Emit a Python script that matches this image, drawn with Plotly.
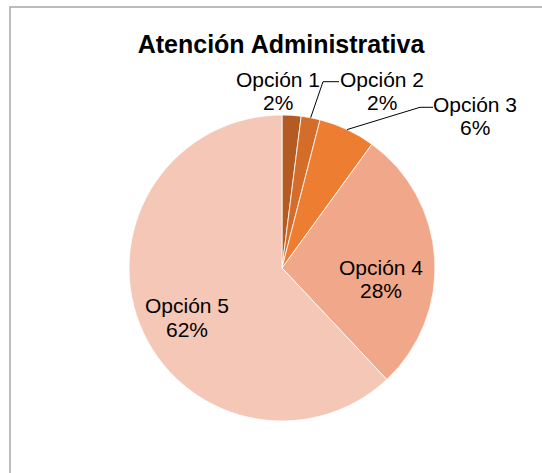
import math
import plotly.graph_objects as go

# Survey result for "Atención Administrativa"
labels = ["Opción 1", "Opción 2", "Opción 3", "Opción 4", "Opción 5"]
values = [2, 2, 6, 28, 62]
colors = ["#B35B22", "#D46D2A", "#ED7D31", "#F1A88A", "#F5C7B7"]
title_text = "Atención Administrativa"

W, H = 542, 473
CX, CY, R = 282, 268, 153          # pie centre and radius in pixels
FONT = "Liberation Sans, Arial, sans-serif"
LINE_GAP = 23.5                    # distance between the two lines of a data label


def px(x):
    return x / W


def py(y):
    return 1 - y / H


def edge_point(index):
    """Pixel point on the rim at the middle of slice `index` (clockwise from 12 o'clock)."""
    total = sum(values)
    start = sum(values[:index]) / total
    mid = start + values[index] / total / 2
    ang = mid * 2 * math.pi
    return CX + R * math.sin(ang), CY - R * math.cos(ang)


total = sum(values)
percents = [f"{round(v / total * 100)}%" for v in values]

fig = go.Figure(
    go.Pie(
        labels=labels,
        values=values,
        textinfo="none",
        marker=dict(colors=colors, line=dict(color="#FFFFFF", width=0.8)),
        sort=False,
        direction="clockwise",
        rotation=0,
        showlegend=False,
        hoverinfo="label+percent",
        domain=dict(x=[px(CX - R), px(CX + R)], y=[py(CY + R), py(CY - R)]),
    )
)

# Data label placement: (text centre x, first-line centre y) in pixels
label_pos = [(278, 79), (382, 79), (475, 104), (381, 267), (187, 305.5)]
annotations = []
for i, (tx, ty) in enumerate(label_pos):
    for k, line in enumerate((labels[i], percents[i])):
        annotations.append(dict(
            x=px(tx), y=py(ty + k * LINE_GAP), xref="paper", yref="paper",
            text=line, showarrow=False, xanchor="center", yanchor="middle",
            font=dict(family=FONT, size=21, color="#000000"),
        ))

# Leader lines: rim point -> elbow -> label edge
leaders = {1: [(323, 81.7), (339, 81.7)], 2: [(420, 107.3), (433, 107.3)]}
shapes = []
for i, pts in leaders.items():
    x0, y0 = edge_point(i)
    path = f"M {px(x0)},{py(y0)}" + "".join(f" L {px(x)},{py(y)}" for x, y in pts)
    shapes.append(dict(type="path", path=path, xref="paper", yref="paper",
                       line=dict(color="#000000", width=1)))

# Chart-area frame (runs off the right and bottom edges)
shapes.append(dict(type="rect", xref="paper", yref="paper",
                   x0=px(10), y0=py(7), x1=px(W + 10), y1=py(H + 10),
                   line=dict(color="#A6A6A6", width=1.5), fillcolor="rgba(0,0,0,0)"))

fig.update_layout(
    width=W, height=H,
    margin=dict(l=0, r=0, t=0, b=0),
    paper_bgcolor="#FFFFFF",
    plot_bgcolor="#FFFFFF",
    title=dict(text=f"<b>{title_text}</b>", x=px(281), y=py(44), xanchor="center",
               yanchor="middle", font=dict(family=FONT, size=25, color="#000000")),
    annotations=annotations,
    shapes=shapes,
)

fig.write_html("out.html")
